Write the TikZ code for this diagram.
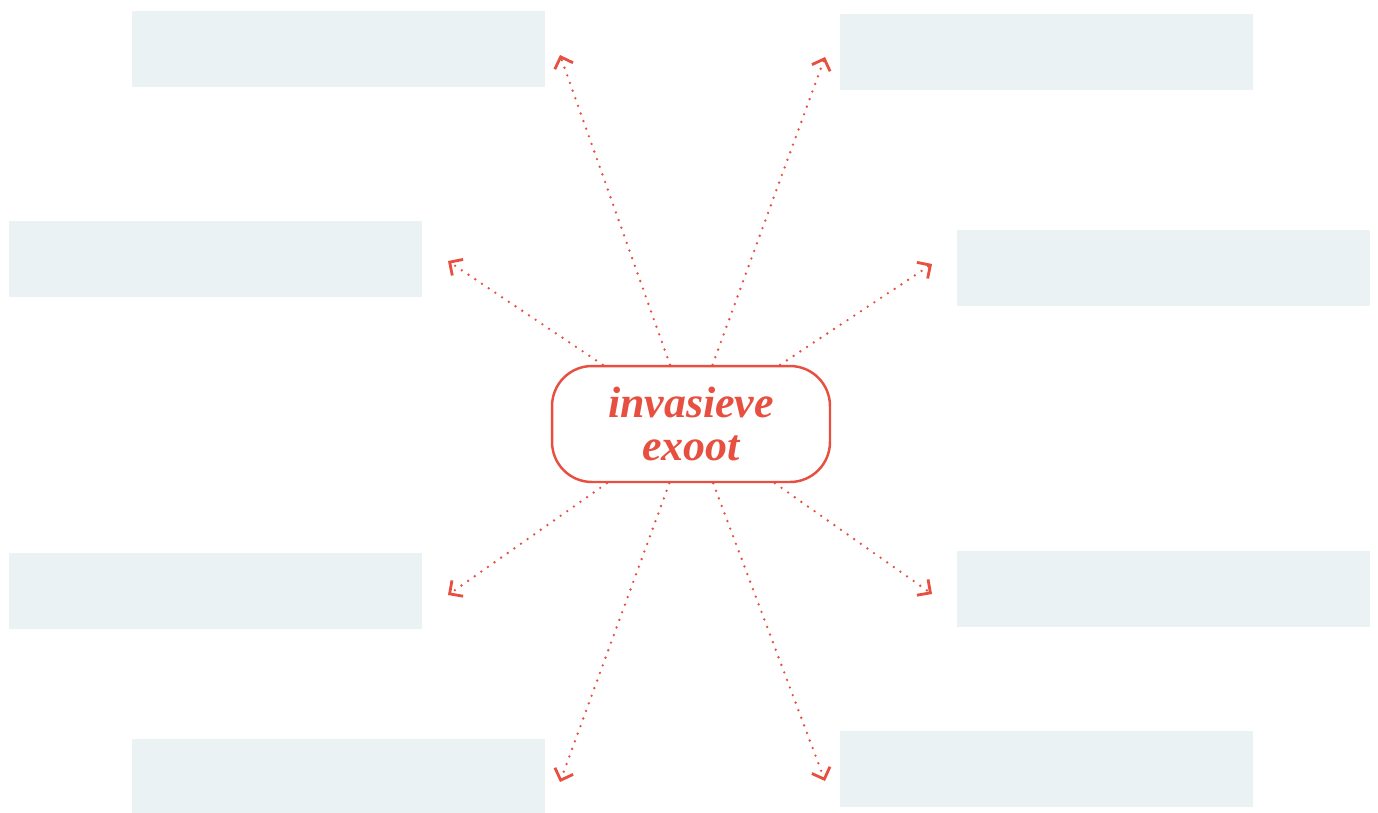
\documentclass[tikz,border=0pt]{standalone}
\usepackage{fontspec}
\setmainfont{Liberation Serif}
\usepackage{tikz}
\usetikzlibrary{arrows.meta,positioning}
\definecolor{ExoRed}{RGB}{231,80,64}
\definecolor{BlankBox}{RGB}{234,242,244}

\begin{document}
\begin{tikzpicture}[
  x=0.02cm, y=-0.02cm,
  hub/.style={
    rectangle, draw=ExoRed, line width=1.4pt, fill=white, rounded corners=0.8cm,
    minimum width=5.56cm, minimum height=2.32cm,
    align=center, text=ExoRed,
    font=\fontsize{25}{24}\selectfont\bfseries\itshape
  },
  blank/.style={
    rectangle, fill=BlankBox, minimum width=8.26cm, minimum height=1.52cm
  },
  arr/.style={
    ExoRed, line width=1.5pt, line cap=round,
    dash pattern=on 0pt off 4.6pt,
    -{Straight Barb[length=5.5pt, width=11pt, line width=1.6pt]}
  }
]
\useasboundingbox (0,0) rectangle (1378,812);

% ---- Empty boxes ----
\node[blank] (tl) at (338.5, 49)  {};
\node[blank] (tr) at (1046.5,52)  {};
\node[blank] (ml) at (215.5, 259) {};
\node[blank] (mr) at (1163.5,268) {};
\node[blank] (ll) at (215.5, 591) {};
\node[blank] (lr) at (1163.5,589) {};
\node[blank] (bl) at (338.5, 777) {};
\node[blank] (br) at (1046.5,769) {};

% ---- Centre ----
\node[hub] (exo) at (691,424) {invasieve\\exoot};

% ---- Arrow ends ----
\coordinate (tTL) at (560,55);
\coordinate (tTR) at (825,57);
\coordinate (tML) at (448,261);
\coordinate (tMR) at (932,264);
\coordinate (tLL) at (448,595);
\coordinate (tLR) at (932,594);
\coordinate (tBL) at (560,782);
\coordinate (tBR) at (825,781);

% ---- Arrows ----
\draw[arr] (exo) -- (tTL);
\draw[arr] (exo) -- (tTR);
\draw[arr] (exo) -- (tML);
\draw[arr] (exo) -- (tMR);
\draw[arr] (exo) -- (tLL);
\draw[arr] (exo) -- (tLR);
\draw[arr] (exo) -- (tBL);
\draw[arr] (exo) -- (tBR);

\end{tikzpicture}
\end{document}
